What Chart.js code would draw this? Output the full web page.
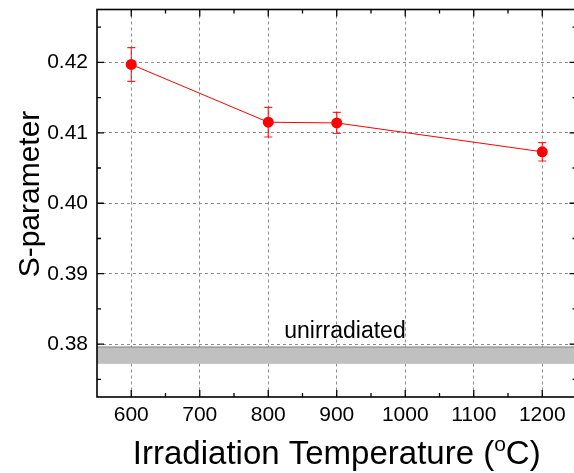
<!DOCTYPE html>
<html>
<head>
<meta charset="utf-8">
<title>S-parameter vs irradiation temperature</title>
<script src="https://cdn.jsdelivr.net/npm/chart.js@4.4.1/dist/chart.umd.min.js"></script>
<style>
  html, body { margin: 0; padding: 0; overflow: hidden; background: #fff; }
  #wrap { width: 582px; height: 473px; }
</style>
</head>
<body>
<div id="wrap"><canvas id="chart" width="582" height="473"></canvas></div>
<script>
// data
const temperatures = [600, 800, 900, 1200];
const sValues = [0.4197, 0.4115, 0.4114, 0.4073];
const sErrors = [0.0024, 0.0021, 0.0015, 0.0013];

// unirradiated reference band
const bandLow = 0.3772;
const bandHigh = 0.3796;
const bandLabel = 'unirradiated';
const bandLabelX = 912;
const bandLabelY = 0.38085;

// axes
const xTicks = [600, 700, 800, 900, 1000, 1100, 1200];
const xMinorTicks = [650, 750, 850, 950, 1050, 1150];
const yTicks = [0.38, 0.39, 0.40, 0.41, 0.42];
const yMinorTicks = [0.375, 0.385, 0.395, 0.405, 0.415, 0.425];
const xTitleMain = 'Irradiation Temperature (';
const xTitleSup = 'o';
const xTitleEnd = 'C)';
const yTitle = 'S-parameter';

const FONT = '"Liberation Sans", Arial, Helvetica, sans-serif';

// band, label and error bars under the points; frame, ticks and titles on top
const decorations = {
  id: 'decorations',
  beforeDatasetsDraw(chart) {
    const { ctx, chartArea: a, scales: { x, y } } = chart;
    ctx.save();
    const yTop = y.getPixelForValue(bandHigh);
    const yBot = y.getPixelForValue(bandLow);
    ctx.fillStyle = '#c0c0c0';
    ctx.fillRect(a.left, yTop, a.right - a.left, yBot - yTop);
    ctx.strokeStyle = '#808080';
    ctx.lineWidth = 1;
    ctx.beginPath();
    ctx.moveTo(a.left, yTop);
    ctx.lineTo(a.right, yTop);
    ctx.stroke();

    ctx.fillStyle = '#000';
    ctx.font = '23px ' + FONT;
    ctx.textAlign = 'center';
    ctx.textBaseline = 'alphabetic';
    ctx.fillText(bandLabel, x.getPixelForValue(bandLabelX), y.getPixelForValue(bandLabelY));

    // error bars
    ctx.strokeStyle = 'rgba(255,0,0,0.85)';
    ctx.lineWidth = 1.2;
    temperatures.forEach((t, i) => {
      const px = x.getPixelForValue(t);
      const hi = y.getPixelForValue(sValues[i] + sErrors[i]);
      const lo = y.getPixelForValue(sValues[i] - sErrors[i]);
      ctx.beginPath();
      ctx.moveTo(px, hi); ctx.lineTo(px, lo);
      ctx.moveTo(px - 4, hi); ctx.lineTo(px + 4, hi);
      ctx.moveTo(px - 4, lo); ctx.lineTo(px + 4, lo);
      ctx.stroke();
    });
    ctx.restore();
  },
  afterDatasetsDraw(chart) {
    const { ctx, chartArea: a, scales: { x, y } } = chart;
    ctx.save();
    ctx.strokeStyle = '#000';
    ctx.lineWidth = 1.6;
    ctx.strokeRect(a.left, a.top, a.right - a.left, a.bottom - a.top);

    ctx.lineWidth = 1.3;
    ctx.beginPath();
    const xt = (v, len) => {
      const px = x.getPixelForValue(v);
      ctx.moveTo(px, a.bottom); ctx.lineTo(px, a.bottom - len);
      ctx.moveTo(px, a.top); ctx.lineTo(px, a.top + len);
    };
    const yt = (v, len) => {
      const py = y.getPixelForValue(v);
      ctx.moveTo(a.left, py); ctx.lineTo(a.left + len, py);
      ctx.moveTo(a.right, py); ctx.lineTo(a.right - len, py);
    };
    xTicks.forEach(v => xt(v, 7));
    xMinorTicks.forEach(v => xt(v, 4));
    yTicks.forEach(v => yt(v, 7));
    yMinorTicks.forEach(v => yt(v, 4));
    ctx.stroke();
    ctx.restore();
  },
  afterDraw(chart) {
    const { ctx, chartArea: a } = chart;
    ctx.save();
    ctx.fillStyle = '#000';
    ctx.textBaseline = 'alphabetic';

    // x title with superscript o
    const mainFont = '33px ' + FONT;
    const supFont = '21px ' + FONT;
    ctx.font = mainFont;
    const w1 = ctx.measureText(xTitleMain).width;
    const w3 = ctx.measureText(xTitleEnd).width;
    ctx.font = supFont;
    const w2 = ctx.measureText(xTitleSup).width;
    let left = (a.left + a.right) / 2 - (w1 + w2 + w3) / 2;
    const base = 464;
    ctx.textAlign = 'left';
    ctx.font = mainFont;
    ctx.fillText(xTitleMain, left, base);
    ctx.font = supFont;
    ctx.fillText(xTitleSup, left + w1, base - 13);
    ctx.font = mainFont;
    ctx.fillText(xTitleEnd, left + w1 + w2, base);

    // y title
    ctx.translate(39, 194);
    ctx.rotate(-Math.PI / 2);
    ctx.textAlign = 'center';
    ctx.font = '30px ' + FONT;
    ctx.fillText(yTitle, 0, 0);
    ctx.restore();
  }
};

new Chart(document.getElementById('chart'), {
  type: 'line',
  data: {
    datasets: [{
      data: temperatures.map((t, i) => ({ x: t, y: sValues[i] })),
      borderColor: '#ff0000',
      backgroundColor: '#ff0000',
      borderWidth: 1,
      pointRadius: 5.5,
      pointBorderWidth: 0,
      tension: 0
    }]
  },
  options: {
    responsive: false,
    animation: false,
    layout: { padding: { top: 9.5, right: 4.5, left: 0, bottom: 0 } },
    plugins: { legend: { display: false }, tooltip: { enabled: false } },
    scales: {
      x: {
        type: 'linear',
        min: 550,
        max: 1250,
        afterBuildTicks: s => { s.ticks = xTicks.map(v => ({ value: v })); },
        afterFit: s => { s.height = 76; s.paddingLeft = 0; s.paddingRight = 0; },
        ticks: {
          color: '#000',
          font: { family: FONT, size: 21 },
          padding: 6,
          maxRotation: 0,
          callback: v => String(v)
        },
        grid: { color: '#8c8c8c', lineWidth: 1, drawTicks: false },
        border: { display: false, dash: [3, 3] }
      },
      y: {
        min: 0.3725,
        max: 0.4275,
        afterBuildTicks: s => { s.ticks = yTicks.map(v => ({ value: v })); },
        afterFit: s => { s.width = 97; s.paddingTop = 0; s.paddingBottom = 0; },
        ticks: {
          color: '#000',
          font: { family: FONT, size: 21 },
          padding: 9,
          callback: v => v.toFixed(2)
        },
        grid: { color: '#8c8c8c', lineWidth: 1, drawTicks: false },
        border: { display: false, dash: [3, 3] }
      }
    }
  },
  plugins: [decorations]
});
</script>
</body>
</html>
